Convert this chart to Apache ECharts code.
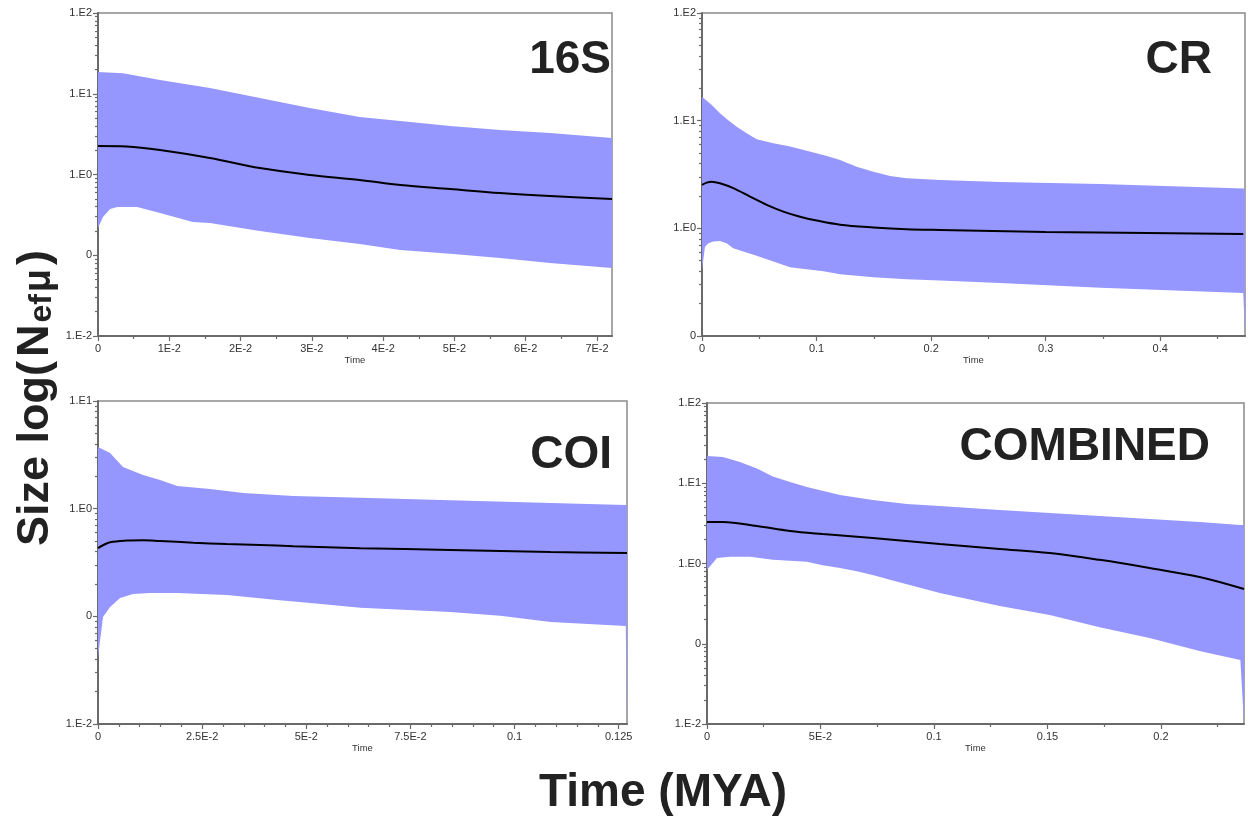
<!DOCTYPE html>
<html><head><meta charset="utf-8">
<script src="https://cdn.jsdelivr.net/npm/echarts@6/dist/echarts.min.js"></script>
<style>html,body{margin:0;padding:0;background:#fff}#c{width:1248px;height:819px}</style>
</head><body><div id="c"></div>
<script>
// ---------- 16S ----------
const S16_UP_T = [0, 0.0035, 0.0087, 0.0157, 0.0227, 0.0297, 0.0367, 0.0424, 0.0494, 0.0564, 0.0634, 0.0721];
const S16_UP_V = [18.6, 17.9, 14.8, 11.8, 8.86, 6.65, 5.15, 4.6, 3.99, 3.56, 3.27, 2.83];
const S16_MED_T = [0, 0.004, 0.0087, 0.0157, 0.0227, 0.0297, 0.0367, 0.0424, 0.0494, 0.0564, 0.0634, 0.0721];
const S16_MED_V = [2.25, 2.22, 2.01, 1.60, 1.20, 0.986, 0.855, 0.741, 0.661, 0.590, 0.542, 0.498];
const S16_LO_T = [0, 0.0007, 0.0017, 0.0027, 0.0055, 0.0087, 0.0133, 0.0157, 0.0227, 0.0297, 0.0367, 0.0424, 0.0494, 0.0564, 0.0634, 0.0721];
const S16_LO_V = [0.217, 0.298, 0.374, 0.396, 0.396, 0.333, 0.258, 0.251, 0.1995, 0.164, 0.138, 0.116, 0.104, 0.0925, 0.080, 0.0695];
const S16_X_TICKS = [0, 0.01, 0.02, 0.03, 0.04, 0.05, 0.06, 0.07];
const S16_X_LABELS = ['0', '1E-2', '2E-2', '3E-2', '4E-2', '5E-2', '6E-2', '7E-2'];
const S16_Y_TICKS = [0.01, 0.1, 1, 10, 100];
const S16_Y_LABELS = ['1.E-2', '0', '1.E0', '1.E1', '1.E2'];

// ---------- CR ----------
const CR_UP_T = [0, 0.0085, 0.0157, 0.0229, 0.0303, 0.039, 0.0477, 0.0623, 0.0769, 0.0914, 0.109, 0.1205, 0.135, 0.1496, 0.1642, 0.1787, 0.2079, 0.26, 0.348, 0.4725, 0.474];
const CR_UP_V = [16.7, 14.0, 11.7, 10.1, 8.79, 7.64, 6.71, 6.17, 5.74, 5.26, 4.70, 4.31, 3.74, 3.36, 3.07, 2.92, 2.81, 2.70, 2.58, 2.35, 2.35];
const CR_MED_T = [0, 0.0041, 0.0085, 0.0157, 0.0273, 0.0419, 0.0565, 0.071, 0.0856, 0.1001, 0.1205, 0.1496, 0.1787, 0.2079, 0.3, 0.4725];
const CR_MED_V = [2.53, 2.66, 2.71, 2.62, 2.36, 1.97, 1.65, 1.43, 1.28, 1.18, 1.08, 1.02, 0.982, 0.966, 0.927, 0.887];
const CR_LO_T = [0, 0.0026, 0.0055, 0.0099, 0.0157, 0.0215, 0.0273, 0.036, 0.0477, 0.0623, 0.0769, 0.0914, 0.106, 0.1205, 0.1496, 0.1787, 0.2079, 0.26, 0.348, 0.4725, 0.474];
const CR_LO_V = [0.411, 0.676, 0.727, 0.753, 0.764, 0.727, 0.653, 0.608, 0.555, 0.491, 0.435, 0.417, 0.400, 0.375, 0.351, 0.337, 0.327, 0.311, 0.280, 0.251, 0.1];
const CR_X_TICKS = [0, 0.1, 0.2, 0.3, 0.4];
const CR_X_LABELS = ['0', '0.1', '0.2', '0.3', '0.4'];
const CR_Y_TICKS = [0.1, 1, 10, 100];
const CR_Y_LABELS = ['0', '1.E0', '1.E1', '1.E2'];

// ---------- COI ----------
const COI_UP_T = [0, 0.0029, 0.006, 0.0108, 0.0149, 0.019, 0.0269, 0.0349, 0.0469, 0.063, 0.0846, 0.1087, 0.1267, 0.127];
const COI_UP_V = [3.74, 3.29, 2.44, 2.05, 1.85, 1.62, 1.52, 1.40, 1.31, 1.26, 1.20, 1.13, 1.08, 1.08];
const COI_MED_T = [0, 0.0013, 0.0029, 0.0069, 0.0108, 0.0149, 0.0229, 0.0309, 0.0389, 0.0469, 0.055, 0.063, 0.0846, 0.1087, 0.127];
const COI_MED_V = [0.431, 0.460, 0.488, 0.505, 0.509, 0.501, 0.483, 0.470, 0.460, 0.448, 0.438, 0.429, 0.414, 0.396, 0.388];
const COI_LO_T = [0, 0.0012, 0.0029, 0.0053, 0.0084, 0.0125, 0.019, 0.031, 0.043, 0.051, 0.063, 0.0846, 0.0966, 0.1087, 0.1267, 0.127];
const COI_LO_V = [0.042, 0.0987, 0.122, 0.148, 0.161, 0.165, 0.165, 0.158, 0.142, 0.133, 0.120, 0.110, 0.101, 0.0887, 0.0814, 0.01];
const COI_X_TICKS = [0, 0.025, 0.05, 0.075, 0.1, 0.125];
const COI_X_LABELS = ['0', '2.5E-2', '5E-2', '7.5E-2', '0.1', '0.125'];
const COI_Y_TICKS = [0.01, 0.1, 1, 10];
const COI_Y_LABELS = ['1.E-2', '0', '1.E0', '1.E1'];

// ---------- COMBINED ----------
const CMB_UP_T = [0, 0.007, 0.0145, 0.022, 0.029, 0.0366, 0.044, 0.0586, 0.073, 0.088, 0.1026, 0.129, 0.173, 0.217, 0.235, 0.2366];
const CMB_UP_V = [21.9, 21.2, 18.4, 15.3, 12.1, 10.4, 8.98, 7.14, 6.18, 5.51, 5.21, 4.64, 3.91, 3.29, 3.02, 3.02];
const CMB_MED_T = [0, 0.007, 0.022, 0.0366, 0.051, 0.073, 0.1026, 0.129, 0.151, 0.173, 0.195, 0.217, 0.2366];
const CMB_MED_V = [3.29, 3.29, 2.93, 2.54, 2.33, 2.08, 1.75, 1.52, 1.35, 1.11, 0.879, 0.679, 0.481];
const CMB_LO_T = [0, 0.0044, 0.0101, 0.019, 0.029, 0.044, 0.051, 0.0586, 0.066, 0.073, 0.081, 0.1026, 0.129, 0.151, 0.173, 0.195, 0.217, 0.235, 0.2366];
const CMB_LO_V = [0.83, 1.17, 1.21, 1.21, 1.11, 1.05, 0.95, 0.88, 0.80, 0.72, 0.622, 0.428, 0.295, 0.228, 0.161, 0.118, 0.0813, 0.0628, 0.01];
const CMB_X_TICKS = [0, 0.05, 0.1, 0.15, 0.2];
const CMB_X_LABELS = ['0', '5E-2', '0.1', '0.15', '0.2'];
const CMB_Y_TICKS = [0.01, 0.1, 1, 10, 100];
const CMB_Y_LABELS = ['1.E-2', '0', '1.E0', '1.E1', '1.E2'];

const TITLES = ['16S', 'CR', 'COI', 'COMBINED'];
const X_AXIS_NAME = 'Time';
const Y_TITLE = ['Size log(', 'N', 'ef', 'μ', ')'];
const X_TITLE = 'Time (MYA)';

// ---------- layout / style ----------
const FONT = '"Liberation Sans", Arial, Helvetica, sans-serif';
const BAND = '#9696ff';
const panels = [
  { grid: {left: 98, top: 13, width: 514, height: 323}, xmax: 0.0721, minorStep: 0.005,
    up: [S16_UP_T, S16_UP_V], med: [S16_MED_T, S16_MED_V], lo: [S16_LO_T, S16_LO_V],
    xt: S16_X_TICKS, xl: S16_X_LABELS, yt: S16_Y_TICKS, yl: S16_Y_LABELS, title: {x: 611, y: 60} },
  { grid: {left: 702, top: 13, width: 543, height: 323}, xmax: 0.474, minorStep: 0.05,
    up: [CR_UP_T, CR_UP_V], med: [CR_MED_T, CR_MED_V], lo: [CR_LO_T, CR_LO_V],
    xt: CR_X_TICKS, xl: CR_X_LABELS, yt: CR_Y_TICKS, yl: CR_Y_LABELS, title: {x: 1212, y: 60} },
  { grid: {left: 98, top: 401, width: 529, height: 323}, xmax: 0.127, minorStep: 0.005,
    up: [COI_UP_T, COI_UP_V], med: [COI_MED_T, COI_MED_V], lo: [COI_LO_T, COI_LO_V],
    xt: COI_X_TICKS, xl: COI_X_LABELS, yt: COI_Y_TICKS, yl: COI_Y_LABELS, title: {x: 612, y: 455} },
  { grid: {left: 707, top: 403, width: 537, height: 321}, xmax: 0.2366, minorStep: 0.025,
    up: [CMB_UP_T, CMB_UP_V], med: [CMB_MED_T, CMB_MED_V], lo: [CMB_LO_T, CMB_LO_V],
    xt: CMB_X_TICKS, xl: CMB_X_LABELS, yt: CMB_Y_TICKS, yl: CMB_Y_LABELS, title: {x: 1210, y: 447} }
];

function lookup(ticks, labels, v, isLog) {
  let best = 0, bd = Infinity;
  ticks.forEach((t, i) => {
    const d = isLog ? Math.abs(Math.log10(t) - Math.log10(v)) : Math.abs(t - v);
    if (d < bd) { bd = d; best = i; }
  });
  return bd < 1e-6 || (isLog && bd < 1e-3) ? labels[best] : '';
}

const grids = [], xAxes = [], yAxes = [], series = [], graphics = [];
const axisColor = '#6a6a6a';
const labelStyle = {color: '#333', fontSize: 11, fontFamily: FONT};

panels.forEach((p, i) => {
  grids.push(Object.assign({show: true, borderColor: '#8a8a8a', borderWidth: 1.5, backgroundColor: 'transparent', outerBoundsMode: 'none'}, p.grid));
  const ymin = p.yt[0], ymax = p.yt[p.yt.length - 1];
  const xMinor = [];
  for (let k = 1; k * p.minorStep <= p.xmax + 1e-9; k++) {
    const v = +(k * p.minorStep).toFixed(6);
    if (!p.xt.some(t => Math.abs(t - v) < 1e-9)) xMinor.push(v);
  }
  const yMinor = [];
  for (let e = Math.round(Math.log10(ymin)); e < Math.round(Math.log10(ymax)); e++) {
    for (let m = 2; m <= 9; m++) yMinor.push(Math.log10(m) + e);
  }
  xAxes.push({
    type: 'value', gridIndex: i, position: 'bottom', min: 0, max: p.xmax,
    name: X_AXIS_NAME, nameLocation: 'middle', nameGap: 16,
    nameTextStyle: {color: '#333', fontSize: 9.5, fontFamily: FONT},
    axisLine: {show: true, onZero: false, lineStyle: {color: axisColor, width: 2}},
    axisTick: {show: true, length: 5, customValues: p.xt, lineStyle: {color: axisColor, width: 1.2}},
    axisLabel: Object.assign({customValues: p.xt, margin: 7,
      formatter: (v) => lookup(p.xt, p.xl, v, false)}, labelStyle),
    splitLine: {show: false}
  });
  xAxes.push({
    type: 'value', gridIndex: i, position: 'bottom', min: 0, max: p.xmax,
    axisLine: {show: false, onZero: false},
    axisTick: {show: true, length: 3, customValues: xMinor, lineStyle: {color: axisColor, width: 1.2}},
    axisLabel: {show: false}, splitLine: {show: false}
  });
  yAxes.push({
    type: 'log', logBase: 10, gridIndex: i, position: 'left', min: ymin, max: ymax,
    axisLine: {show: true, onZero: false, lineStyle: {color: axisColor, width: 2}},
    axisTick: {show: true, length: 5, lineStyle: {color: axisColor, width: 1.2}},
    axisLabel: Object.assign({margin: 6, formatter: (v) => lookup(p.yt, p.yl, v, true)}, labelStyle),
    splitLine: {show: false}, minorTick: {show: false}
  });
  yAxes.push({
    type: 'value', gridIndex: i, position: 'left', min: Math.log10(ymin), max: Math.log10(ymax),
    axisLine: {show: false, onZero: false},
    axisTick: {show: true, length: 3, customValues: yMinor, lineStyle: {color: axisColor, width: 1.2}},
    axisLabel: {show: false}, splitLine: {show: false}
  });

  const up = p.up, lo = p.lo;
  series.push({
    type: 'custom', coordinateSystem: 'cartesian2d', xAxisIndex: 2 * i, yAxisIndex: 2 * i,
    silent: true, clip: true, z: 1,
    data: [[up[0][0], up[1][0]]],
    renderItem: function (params, api) {
      const pts = [];
      for (let k = 0; k < up[0].length; k++) pts.push(api.coord([up[0][k], up[1][k]]));
      for (let k = lo[0].length - 1; k >= 0; k--) pts.push(api.coord([lo[0][k], lo[1][k]]));
      return {type: 'polygon', shape: {points: pts}, style: {fill: BAND, stroke: null}};
    }
  });
  series.push({
    type: 'line', xAxisIndex: 2 * i, yAxisIndex: 2 * i, z: 3, silent: true,
    data: p.med[0].map((t, k) => [t, p.med[1][k]]),
    smooth: 0.35, showSymbol: false, symbol: 'none',
    lineStyle: {color: '#000', width: 2}
  });

  graphics.push({
    type: 'text', x: p.title.x, y: p.title.y, z: 10,
    style: {text: TITLES[i], fill: '#222', font: 'bold 46px ' + FONT, align: 'right', verticalAlign: 'middle'}
  });
});

graphics.push({
  type: 'text', x: 36, y: 398, rotation: Math.PI / 2, z: 10,
  style: {
    text: '{a|' + Y_TITLE[0] + '}{n|' + Y_TITLE[1] + '}{b|' + Y_TITLE[2] + '}{m|' + Y_TITLE[3] + '}{c|' + Y_TITLE[4] + '}',
    align: 'center', verticalAlign: 'middle',
    rich: {
      a: {fontSize: 45, fontWeight: 'bold', fontFamily: FONT, fill: '#222'},
      n: {fontSize: 45, fontWeight: 'bold', fontFamily: FONT, fill: '#222', padding: [0, 2, 0, 4]},
      b: {fontSize: 32, fontWeight: 'bold', fontFamily: FONT, fill: '#222', verticalAlign: 'bottom'},
      m: {fontSize: 38, fontWeight: 'bold', fontFamily: FONT, fill: '#222', verticalAlign: 'bottom', padding: [0, 0, 0, 2]},
      c: {fontSize: 45, fontWeight: 'bold', fontFamily: FONT, fill: '#222', padding: [0, 0, 0, 4]}
    }
  }
});
graphics.push({
  type: 'text', x: 663, y: 793, z: 10,
  style: {text: X_TITLE, fill: '#222', font: 'bold 46px ' + FONT, align: 'center', verticalAlign: 'middle'}
});

const chart = echarts.init(document.getElementById('c'), null, {renderer: 'canvas'});
chart.setOption({
  animation: false,
  backgroundColor: '#fff',
  grid: grids, xAxis: xAxes, yAxis: yAxes, series: series, graphic: graphics
});
</script></body></html>
